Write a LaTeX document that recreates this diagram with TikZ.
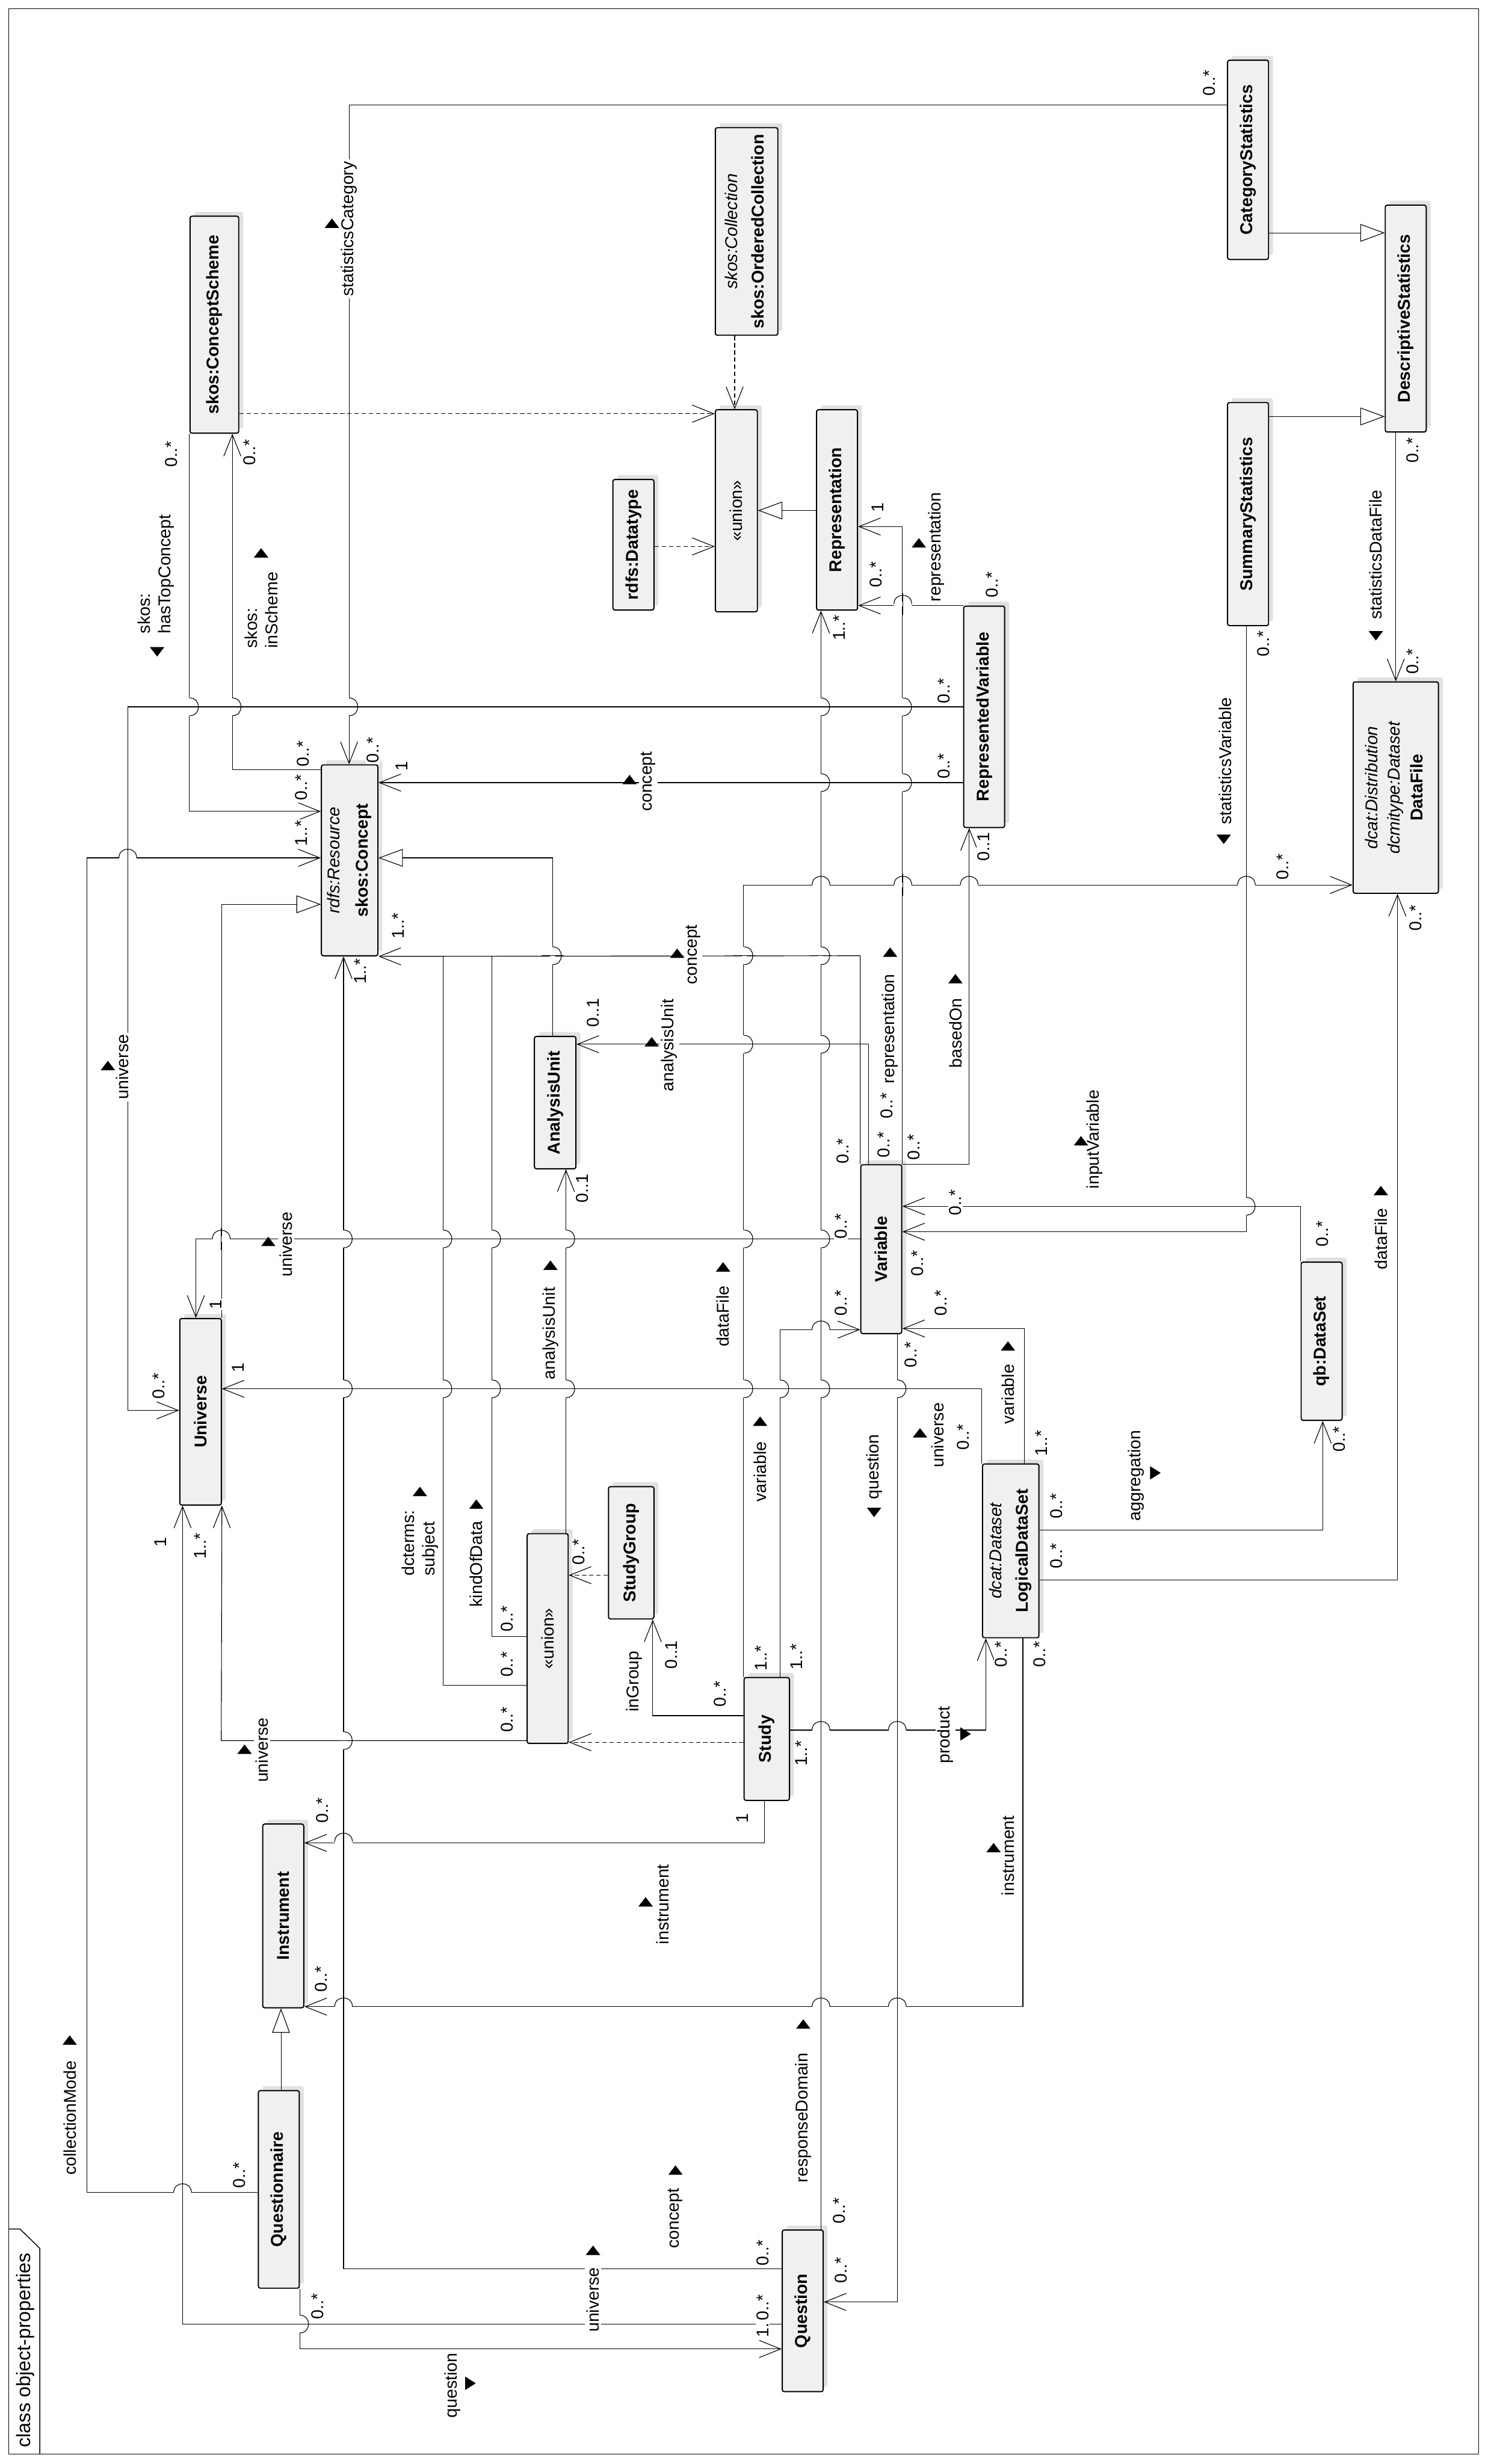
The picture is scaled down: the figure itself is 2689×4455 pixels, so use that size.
\documentclass[tikz,border=0pt]{standalone}
\usepackage{fontspec}
\setmainfont{Liberation Sans}
\usetikzlibrary{arrows.meta,shadows}
\definecolor{BoxFill}{HTML}{F0F0F0}
\definecolor{ShadowGrey}{HTML}{E1E1E1}

% line jumps and direction marks
\newcommand{\hoph}[2]{%
  \draw[white, line width=2.5pt] (#1-16,#2) -- (#1+16,#2);
  \draw[conn] (#1,#2-20) -- (#1,#2+20);
  \draw[conn] (#1-16,#2) .. controls (#1-16,#2-21) and (#1+16,#2-21) .. (#1+16,#2);}
\newcommand{\hopv}[2]{%
  \draw[white, line width=2.5pt] (#1,#2-16) -- (#1,#2+16);
  \draw[conn] (#1-20,#2) -- (#1+20,#2);
  \draw[conn] (#1,#2-16) .. controls (#1+21,#2-16) and (#1+21,#2+16) .. (#1,#2+16);}
\newcommand{\mkup}[2]{\fill (#1-13,#2+8) -- (#1+13,#2+8) -- (#1,#2-9) -- cycle;}
\newcommand{\mkdn}[2]{\fill (#1-13,#2-8) -- (#1+13,#2-8) -- (#1,#2+9) -- cycle;}
\newcommand{\mkrt}[2]{\fill (#1-9,#2-12) -- (#1-9,#2+12) -- (#1+10,#2) -- cycle;}

\begin{document}
\begin{tikzpicture}[x=0.01cm, y=-0.01cm, font=\fontsize{8.8}{10.6}\selectfont,
  cls/.style={draw, line width=0.6pt, rounded corners=1pt, fill=BoxFill, inner sep=0pt,
    font=\fontsize{8.8}{10.6}\selectfont\bfseries,
    drop shadow={shadow xshift=0.08cm, shadow yshift=0.08cm, fill=ShadowGrey, opacity=1}},
  conn/.style={line width=0.35pt},
  nav/.style={conn, -{Straight Barb[length=0.39cm, width=0.31cm]}},
  gen/.style={conn, -{Triangle[length=0.44cm, width=0.32cm, fill=white]}},
  dep/.style={nav, dash pattern=on 0.08cm off 0.05cm},
  lbl/.style={rotate=90, inner sep=1pt},
  onl/.style={lbl, fill=white},
  mult/.style={rotate=90, inner sep=0.5pt, fill=white}]
  \useasboundingbox (0,0) rectangle (2689,4455);

  % frame
  \draw[line width=0.45pt] (16,16) rectangle (2673,4437);
  \draw[line width=0.45pt] (16,4030) -- (36,4030) -- (72,4065) -- (72,4437);
  \node[rotate=90, font=\fontsize{10}{12}\selectfont] (title) at (46,4249) {class object-properties};

  % classes
  \node[cls, minimum width=0.88cm, minimum height=3.92cm] (cscheme) at (387.5,587) {\rotatebox{90}{skos:ConceptScheme}};
  \node[cls, minimum width=0.74cm, minimum height=3.60cm] (catstat) at (2256,289) {\rotatebox{90}{CategoryStatistics}};
  \node[cls, minimum width=0.74cm, minimum height=4.10cm] (descstat) at (2541,576) {\rotatebox{90}{DescriptiveStatistics}};
  \node[cls, minimum width=0.74cm, minimum height=4.03cm] (sumstat) at (2256,929.5) {\rotatebox{90}{SummaryStatistics}};
  \node[cls, minimum width=1.13cm, minimum height=3.75cm] (ordcoll) at (1349.5,418.5)
    {\rotatebox{90}{\begin{tabular}{@{}c@{}}{\mdseries\itshape skos:Collection}\\[3pt]skos:OrderedCollection\end{tabular}}};
  \node[cls, minimum width=0.76cm, minimum height=3.65cm] (union1) at (1331,923.5) {\rotatebox{90}{\mdseries «union»}};
  \node[cls, minimum width=0.74cm, minimum height=3.62cm] (repr) at (1513,922) {\rotatebox{90}{Representation}};
  \node[cls, minimum width=0.74cm, minimum height=2.36cm] (datatype) at (1145,985) {\rotatebox{90}{rdfs:Datatype}};
  \node[cls, minimum width=1.02cm, minimum height=3.45cm] (concept) at (632,1555.5)
    {\rotatebox{90}{\begin{tabular}{@{}c@{}}{\mdseries\itshape rdfs:Resource}\\[4pt]skos:Concept\end{tabular}}};
  \node[cls, minimum width=0.74cm, minimum height=4.00cm] (repvar) at (1779,1296) {\rotatebox{90}{RepresentedVariable}};
  \node[cls, minimum width=0.75cm, minimum height=2.39cm] (anaunit) at (1003.5,1993.5) {\rotatebox{90}{AnalysisUnit}};
  \node[cls, minimum width=0.74cm, minimum height=3.05cm] (variable) at (1593,2258.5) {\rotatebox{90}{Variable}};
  \node[cls, minimum width=0.75cm, minimum height=3.37cm] (universe) at (362.5,2552.5) {\rotatebox{90}{Universe}};
  \node[cls, minimum width=0.74cm, minimum height=3.79cm] (union2) at (990,2962.5) {\rotatebox{90}{\mdseries «union»}};
  \node[cls, minimum width=0.82cm, minimum height=2.39cm] (studygroup) at (1141,2807.5) {\rotatebox{90}{StudyGroup}};
  \node[cls, minimum width=0.82cm, minimum height=2.22cm] (study) at (1386,3144) {\rotatebox{90}{Study}};
  \node[cls, minimum width=1.02cm, minimum height=3.14cm] (lds) at (1827,2804)
    {\rotatebox{90}{\begin{tabular}{@{}c@{}}{\mdseries\itshape dcat:Dataset}\\[3pt]LogicalDataSet\end{tabular}}};
  \node[cls, minimum width=0.74cm, minimum height=2.86cm] (qbds) at (2389,2425) {\rotatebox{90}{qb:DataSet}};
  \node[cls, minimum width=1.54cm, minimum height=3.82cm] (datafile) at (2523,1424)
    {\rotatebox{90}{\begin{tabular}{@{}c@{}}{\mdseries\itshape dcat:Distribution}\\[1pt]{\mdseries\itshape dcmitype:Dataset}\\[1pt]DataFile\end{tabular}}};
  \node[cls, minimum width=0.74cm, minimum height=3.32cm] (instrument) at (512,3464) {\rotatebox{90}{Instrument}};
  \node[cls, minimum width=0.74cm, minimum height=3.57cm] (questionnaire) at (504,3958.5) {\rotatebox{90}{Questionnaire}};
  \node[cls, minimum width=0.74cm, minimum height=2.92cm] (question) at (1451,4178) {\rotatebox{90}{Question}};

  % generalisations and dependencies
  \draw[gen] (catstat.east |- 0,421) -- (descstat.west |- 0,421);
  \draw[gen] (sumstat.east |- 0,753) -- (descstat.west |- 0,753);
  \draw[gen] (repr.west |- 0,923) -- (union1.east |- 0,923);
  \draw[gen] (universe.north east) -- (universe.north east |- 0,1635) -- (concept.west |- 0,1635);
  \draw[gen] (anaunit.north -| 999,0) -- (999,1551) -- (concept.east |- 0,1551);
  \draw[gen] (questionnaire.north -| 508,0) -- (instrument.south -| 508,0);
  \draw[dep] (cscheme.east |- 0,748) -- (union1.west |- 0,748);
  \draw[dep] (ordcoll.south -| 1328,0) -- (union1.north -| 1328,0);
  \draw[dep] (datatype.east |- 0,988) -- (union1.west |- 0,988);
  \draw[dep] (studygroup.west |- 0,2848) -- (union2.east |- 0,2848);
  \draw[dep] (study.west |- 0,3150) -- (union2.east |- 0,3150);

  % associations
  \draw[nav] (catstat.west |- 0,190) -- (631,190) -- (concept.north -| 631,0);
  \draw[nav] (concept.west |- 0,1392) -- (420,1392) -- (cscheme.south -| 420,0);
  \draw[nav] (cscheme.south west) -- (cscheme.south west |- 0,1467) -- (concept.west |- 0,1467);
  \draw[nav] (questionnaire.west |- 0,3964) -- (157,3964) -- (157,1551) -- (concept.west |- 0,1551);
  \draw[nav] (repvar.west |- 0,1278) -- (231,1278) -- (231,2550) -- (universe.west |- 0,2550);
  \draw[nav] (repvar.west |- 0,1415) -- (concept.east |- 0,1415);
  \draw[nav] (variable.north west) -- (variable.north west |- 0,1728) -- (concept.south east);
  \draw[conn] (union2.west |- 0,2959) -- (889,2959) -- (889,1728);
  \draw[conn] (union2.west |- 0,3047) -- (801,3047) -- (801,1728);
  \draw[nav] (union2.west |- 0,3147) -- (400,3147) -- (universe.south east);
  \draw[nav] (question.west |- 0,4202) -- (330,4202) -- (universe.south -| 330,0);
  \draw[nav] (question.west |- 0,4102) -- (621,4102) -- (concept.south -| 621,0);
  \draw[nav] (questionnaire.south east) -- (questionnaire.south east |- 0,4247) -- (question.west |- 0,4247);
  \draw[nav] (variable.south -| 1622,0) -- (1622,4162) -- (question.east |- 0,4162);
  \draw[nav] (question.north -| 1484,0) -- (repr.south -| 1484,0);
  \draw[nav] (variable.north east) -- (variable.north east |- 0,952) -- (repr.east |- 0,952);
  \draw[nav] (repvar.north west) -- (repr.east |- repvar.north west);
  \draw[nav] (variable.north east) -| (repvar.south -| 1752,0);
  \draw[nav] (study.north west) -- (study.north west |- 0,1600) -- (datafile.west |- 0,1600);
  \draw[nav] (study.north -| 1410,0) -- (1410,2404) -- (variable.west |- 0,2404);
  \draw[nav] (variable.west |- 0,2240) -- (354,2240) -- (universe.north -| 354,0);
  \draw[nav] (lds.north west) -- (lds.north west |- 0,2511) -- (universe.east |- 0,2511);
  \draw[nav] (variable.north -| 1570,0) -- (1570,1888) -- (anaunit.east |- 0,1888);
  \draw[nav] (union2.north -| 1023,0) -- (anaunit.south -| 1023,0);
  \draw[nav] (study.west |- 0,3102) -- (1180,3102) -- (studygroup.south -| 1180,0);
  \draw[nav] (study.east |- 0,3128) -- (1782,3128) -- (lds.south -| 1782,0);
  \draw[nav] (lds.south -| 1849,0) -- (1849,3628) -- (instrument.east |- 0,3628);
  \draw[nav] (study.south -| 1382,0) -- (1382,3332) -- (instrument.east |- 0,3332);
  \draw[nav] (sumstat.south -| 2253,0) -- (2253,2227) -- (variable.east |- 0,2227);
  \draw[nav] (qbds.north west) -- (qbds.north west |- 0,2181) -- (variable.east |- 0,2181);
  \draw[nav] (lds.north -| 1852,0) -- (1852,2402) -- (variable.east |- 0,2402);
  \draw[nav] (lds.east |- 0,2766) -- (2391,2766) -- (qbds.south -| 2391,0);
  \draw[nav] (lds.east |- 0,2857) -- (2526,2857) -- (datafile.south -| 2526,0);
  \draw[nav] (descstat.south -| 2523,0) -- (datafile.north -| 2523,0);

  % line jumps
  \foreach \x/\y in {343/1278, 420/1278, 631/1278, 1484/1278, 1632/1278, 1484/1415, 1632/1415,
      999/1728, 1345/1728, 1484/1728, 1345/1888, 1484/1888, 2253/2181, 621/2240, 801/2240,
      889/2240, 1023/2240, 1345/2240, 1484/2240, 621/2511, 801/2511, 889/2511, 1023/2511,
      1345/2511, 1410/2511, 1484/2511, 1622/2511, 621/3147, 542/4202}
    {\hopv{\x}{\y}}
  \foreach \x/\y in {231/1551, 1484/1600, 1632/1600, 1752/1600, 2253/1600, 400/2240, 1484/2404,
      1484/3128, 1622/3128, 621/3330, 330/3964, 621/3628, 1484/3628, 1622/3628, 1632/1092}
    {\hoph{\x}{\y}}

  % role names
  \node[onl] (lStatCat) at (631,414) {statisticsCategory};
  \node[lbl, align=left] (lTopConcept) at (282,1038) {skos:\\hasTopConcept};
  \node[lbl, align=left] (lInScheme) at (472,1103) {skos:\\inScheme};
  \node[onl] (lUnivRepVar) at (221,1929) {universe};
  \node[onl] (lConceptRepVar) at (1172,1413) {concept};
  \node[onl] (lConceptVar) at (1253,1726) {concept};
  \node[onl] (lUnitVar) at (1210,1890) {analysisUnit};
  \node[lbl] (lReprVar) at (1609,1860) {representation};
  \node[lbl] (lBasedOn) at (1727,1868) {basedOn};
  \node[lbl] (lReprRepVar) at (1693,989) {representation};
  \node[lbl] (lStatVar) at (2215,1376) {statisticsVariable};
  \node[lbl] (lStatFile) at (2487,1003) {statisticsDataFile};
  \node[lbl] (lInputVar) at (1979,2060) {inputVariable};
  \node[lbl] (lFileLds) at (2496,2240) {dataFile};
  \node[lbl] (lVarLds) at (1822,2521) {variable};
  \node[lbl] (lAggr) at (2054,2668) {aggregation};
  \node[lbl] (lUnivLds) at (1695,2595) {universe};
  \node[lbl] (lQuestVar) at (1580,2652) {question};
  \node[lbl] (lVarStudy) at (1374,2661) {variable};
  \node[lbl] (lFileStudy) at (1307,2380) {dataFile};
  \node[lbl] (lUnitUnion) at (995,2411) {analysisUnit};
  \node[onl] (lUnivVar) at (517,2250) {universe};
  \node[onl] (lUnivQuest) at (1072,4158) {universe};
  \node[lbl] (lConceptQuest) at (1221,4011) {concept};
  \node[lbl] (lRespDomain) at (1452,3829) {responseDomain};
  \node[lbl] (lInstrStudy) at (1198,3443) {instrument};
  \node[lbl] (lInstrLds) at (1822,3355) {instrument};
  \node[onl] (lProduct) at (1709,3137) {product};
  \node[lbl] (lInGroup) at (1147,3040) {inGroup};
  \node[lbl, align=left] (lSubject) at (759,2790) {dcterms:\\subject};
  \node[lbl] (lKindOfData) at (861,2828) {kindOfData};
  \node[onl] (lUnivUnion) at (474,3164) {universe};
  \node[lbl] (lCollMode) at (126,3829) {collectionMode};
  \node[lbl] (lQuestQn) at (818,4313) {question};

  % reading direction marks
  \foreach \x/\y in {600/404, 472/1000, 195/1927, 1138/1410, 1224/1724, 1178/1884, 1609/1722,
      1727/1770, 1661/982, 1954/2063, 2496/2153, 1822/2434, 1663/2591, 1374/2570, 1307/2291,
      995/2288, 485/2245, 1072/4069, 1221/3924, 1452/3660, 1167/3439, 1796/3341, 759/2697,
      861/2720, 442/3163, 126/3689}
    {\mkup{\x}{\y}}
  \foreach \x/\y in {284/1178, 2212/1517, 2487/1149, 1580/2734}
    {\mkdn{\x}{\y}}
  \foreach \x/\y in {2088/2663, 1745/3135, 850/4309}
    {\mkrt{\x}{\y}}

  % multiplicities
  \node[mult] (mQ1) at (1379,4203) {1..*};
  \foreach \txt/\x/\y [count=\n] in {{0..*}/310/821, {0..*}/451/818, {0..*}/2186/150, {0..*}/548/1363,
      {0..*}/545/1424, {1..*}/545/1506, {0..*}/674/1356, 1/726/1385, {1..*}/720/1674, {1..*}/651/1756,
      {1..*}/1517/1135, {0..*}/1706/1249, {0..*}/1706/1385, {0..1}/1778/1531, {0..1}/1072/1831,
      {0..1}/1052/2149, {0..*}/1523/2081, {0..*}/1597/2070, {0..*}/1652/2074, {0..*}/1603/1999,
      {0..*}/1727/2174, {0..*}/1520/2217, 1/1586/918, {0..*}/1583/1039, {0..*}/1793/1057,
      {0..*}/2284/1164, {0..*}/2553/1196, {0..*}/2318/1567, {0..*}/2559/1660, {0..*}/2553/814,
      {0..*}/287/2506, 1/390/2359, 1/430/2473, 1/290/2788, {1..*}/362/2795, {0..*}/583/3273,
      {0..*}/1658/2284, {0..*}/1701/2356, {0..*}/1520/2356, {0..*}/1646/2449, {0..*}/1741/2598,
      {0..*}/1046/2806, {0..*}/917/2927, {0..*}/917/3009, {0..*}/917/3109, {0..1}/1213/2992,
      {0..*}/1302/3063, {1..*}/1376/2998, {1..*}/1440/2995, {1..*}/1448/3170, 1/1342/3287,
      {1..*}/1882/2609, {0..*}/1910/2723, {0..*}/1910/2813, {0..*}/1810/2991, {0..*}/1879/2991,
      {0..*}/2421/2602, {0..*}/2390/2231, {0..*}/580/3578, {0..*}/433/3933, {0..*}/574/4170,
      {0..*}/1379/4073, {0..*}/1379/4172, {0..*}/1517/3997, {0..*}/1520/4105}
    {\node[mult] (m\n) at (\x,\y) {\txt};}
\end{tikzpicture}
\end{document}
